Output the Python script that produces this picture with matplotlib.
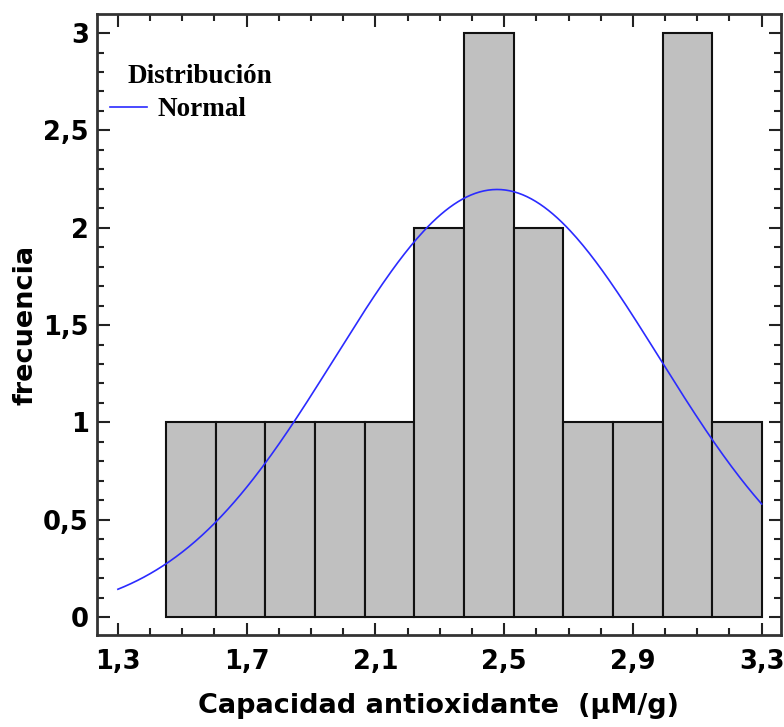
import numpy as np
import matplotlib
matplotlib.use("Agg")
import matplotlib.pyplot as plt
from matplotlib.lines import Line2D
from matplotlib.ticker import FixedLocator, MultipleLocator

# ---- data ----
bin_edges = [1.45, 1.604, 1.758, 1.912, 2.067, 2.221, 2.375, 2.529, 2.683, 2.838, 2.992, 3.146, 3.30]
counts = [1, 1, 1, 1, 1, 2, 3, 2, 1, 1, 3, 1]
normal_mean = 2.478
normal_sd = 0.504
curve_range = (1.3, 3.3)
xtick_values = [1.3, 1.7, 2.1, 2.5, 2.9, 3.3]
xtick_labels = ["1,3", "1,7", "2,1", "2,5", "2,9", "3,3"]
ytick_values = [0, 0.5, 1, 1.5, 2, 2.5, 3]
ytick_labels = ["0", "0,5", "1", "1,5", "2", "2,5", "3"]
xlabel = "Capacidad antioxidante  (µM/g)"
ylabel = "frecuencia"
legend_title = "Distribución"
legend_entry = "Normal"

# ---- figure ----
fig = plt.figure(figsize=(7.84, 7.27), dpi=100)
ax = fig.add_axes([97/784, 92/727, 684/784, 621/727])

edges = np.array(bin_edges)
widths = np.diff(edges)
ax.bar(edges[:-1], counts, width=widths, align="edge", color="#c0c0c0",
       edgecolor="#111111", linewidth=1.5, zorder=2)

n = sum(counts)
bw = widths.mean()
xs = np.linspace(curve_range[0], curve_range[1], 300)
ys = n * bw * np.exp(-0.5 * ((xs - normal_mean) / normal_sd) ** 2) / (normal_sd * np.sqrt(2 * np.pi))
ax.plot(xs, ys, color="#2b2bff", linewidth=1.2, zorder=3)

ax.set_xlim(1.235, 3.36)
ax.set_ylim(-0.092, 3.098)

ax.xaxis.set_major_locator(FixedLocator(xtick_values))
ax.set_xticklabels(xtick_labels)
ax.xaxis.set_minor_locator(MultipleLocator(0.1))
ax.yaxis.set_major_locator(FixedLocator(ytick_values))
ax.set_yticklabels(ytick_labels)
ax.yaxis.set_minor_locator(MultipleLocator(0.1))

ax.tick_params(which="both", direction="in", top=True, right=True, color="#222222", width=1.5)
ax.tick_params(which="major", length=9)
ax.tick_params(which="minor", length=5)
ax.tick_params(axis="x", which="major", pad=10)
ax.tick_params(axis="y", which="major", pad=6)
for lab in ax.get_xticklabels() + ax.get_yticklabels():
    lab.set_fontsize(18.5)
    lab.set_fontweight("bold")
    lab.set_family("DejaVu Sans")

for sp in ax.spines.values():
    sp.set_linewidth(2)
    sp.set_color("#333333")

ax.set_xlabel(xlabel, fontsize=19.5, fontweight="bold", labelpad=13)
ax.set_ylabel(ylabel, fontsize=19.5, fontweight="bold", labelpad=3)

# legend (manual, positioned in axes fraction)
ax.text(0.0453, 0.889, legend_title, transform=ax.transAxes, fontsize=19.5,
        fontweight="bold", family="Liberation Serif", va="baseline", ha="left")
ax.add_line(Line2D([0.019, 0.073], [0.850, 0.850], transform=ax.transAxes,
                   color="#2b2bff", linewidth=1.2))
ax.text(0.089, 0.8357, legend_entry, transform=ax.transAxes, fontsize=19.5,
        fontweight="bold", family="Liberation Serif", va="baseline", ha="left")

fig.savefig("out.png", dpi=100)
